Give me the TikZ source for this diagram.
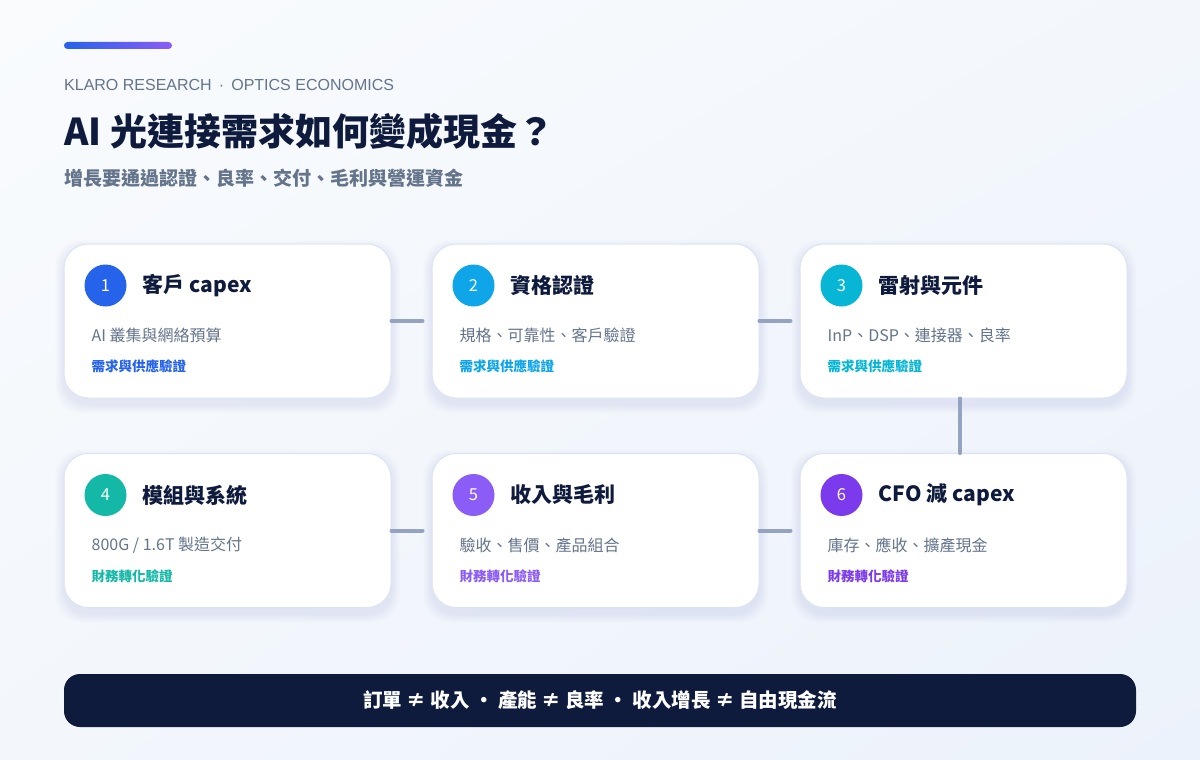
\documentclass[tikz,border=0pt]{standalone}
\usepackage{fontspec}
\setmainfont{Noto Sans CJK TC}
\newfontfamily\latinfont{Liberation Sans}
\usetikzlibrary{positioning,shadings}

\definecolor{ink}{HTML}{0F1B3D}
\definecolor{slate}{HTML}{64748B}
\definecolor{linkgray}{HTML}{94A3C0}
\definecolor{cardline}{HTML}{DCE4F2}
\definecolor{shadowblue}{HTML}{7D8FC4}
\definecolor{bgtl}{HTML}{F9FBFD}
\definecolor{bgtr}{HTML}{F3F7FC}
\definecolor{bgbl}{HTML}{F3F7FC}
\definecolor{bgbr}{HTML}{ECF2FB}
\definecolor{tone1}{HTML}{2563EB}
\definecolor{tone2}{HTML}{0EA5E9}
\definecolor{tone3}{HTML}{06B6D4}
\definecolor{tone4}{HTML}{14B8A6}
\definecolor{tone5}{HTML}{8B5CF6}
\definecolor{tone6}{HTML}{7C3AED}

\begin{document}
\begin{tikzpicture}
		[x = 1pt, y = -1pt,
		card/.style = {draw=cardline, line width=1pt, fill=white, rounded corners=24pt,
			minimum width=327pt, minimum height=154pt, inner sep=0pt},
		numdot/.style = {circle, minimum size=42pt, inner sep=0pt, text=white,
			font=\fontsize{16.5}{16.5}\selectfont},
		cardtitle/.style = {anchor=west, inner sep=0pt, text=ink,
			font=\bfseries\fontsize{21}{21}\selectfont},
		carddesc/.style = {anchor=west, inner sep=0pt, text=slate,
			font=\fontsize{16}{16}\selectfont},
		cardtag/.style = {anchor=west, inner sep=0pt,
			font=\bfseries\fontsize{13.5}{13.5}\selectfont},
		link/.style = {draw=linkgray, line width=4pt, line cap=round},
		summary/.style = {fill=ink, rounded corners=16pt, minimum width=1072pt,
			minimum height=53pt, text=white, font=\bfseries\fontsize{19.5}{19.5}\selectfont}]
		\useasboundingbox (0, 0) rectangle (1200, 760);
		\shade[upper left=bgtl, upper right=bgtr, lower left=bgbl, lower right=bgbr]
			(0, 0) rectangle (1200, 760);
		\shade[left color=tone1, middle color=tone3, right color=tone5, rounded corners=3.5pt]
			(64, 42) rectangle (172, 49);
		\path	(64, 90) node[anchor=base west, inner sep=0pt, text=slate,
					font=\latinfont\fontsize{16}{16}\selectfont] (brand)
					{KLARO RESEARCH \,·\, OPTICS ECONOMICS}
				(64, 145) node[anchor=base west, inner sep=0pt, text=ink,
					font=\bfseries\fontsize{37}{37}\selectfont] (headline)
					{AI 光連接需求如何變成現金？}
				(64, 185) node[anchor=base west, inner sep=0pt, text=slate,
					font=\bfseries\fontsize{19}{19}\selectfont] (subline)
					{增長要通過認證、良率、交付、毛利與營運資金};
		\foreach \i/\px/\py/\ttl/\desc/\tag in {
				1/227.5/321/{客戶 capex}/{AI 叢集與網絡預算}/{需求與供應驗證},
				2/595.5/321/{資格認證}/{規格、可靠性、客戶驗證}/{需求與供應驗證},
				3/963.5/321/{雷射與元件}/{InP、DSP、連接器、良率}/{需求與供應驗證},
				4/227.5/530.5/{模組與系統}/{800G / 1.6T 製造交付}/{財務轉化驗證},
				5/595.5/530.5/{收入與毛利}/{驗收、售價、產品組合}/{財務轉化驗證},
				6/963.5/530.5/{CFO 減 capex}/{庫存、應收、擴產現金}/{財務轉化驗證}}
		{
			\foreach \k in {1,...,9}
				\fill[shadowblue, fill opacity=0.016, rounded corners=26pt]
					(\px-163.5-\k, \py-72-\k) rectangle (\px+163.5+\k, \py+83+\k);
			\node[card] (c\i) at (\px, \py) {};
			\node[numdot, fill=tone\i] (n\i) at ([shift={(42, 42)}]c\i.north west) {\i};
			\node[cardtitle, right=16pt of n\i] (t\i) {\ttl};
			\node[carddesc] (d\i) at ([shift={(28, 92)}]c\i.north west) {\desc};
			\node[cardtag, text=tone\i] (g\i) at ([shift={(28, 123)}]c\i.north west) {\tag};
		}
		\draw[link, shorten >=9pt] (c1) -- (c2);
		\draw[link, shorten >=9pt] (c2) -- (c3);
		\draw[link] ([xshift=-3.5pt]c3.south) -- ([xshift=-3.5pt]c6.north);
		\draw[link, shorten >=9pt] (c4) -- (c5);
		\draw[link, shorten >=9pt] (c5) -- (c6);
		\node[summary] (bottomline) at (600, 700.5)
			{訂單 ≠ 收入 · 產能 ≠ 良率 · 收入增長 ≠ 自由現金流};
	\end{tikzpicture}
\end{document}
